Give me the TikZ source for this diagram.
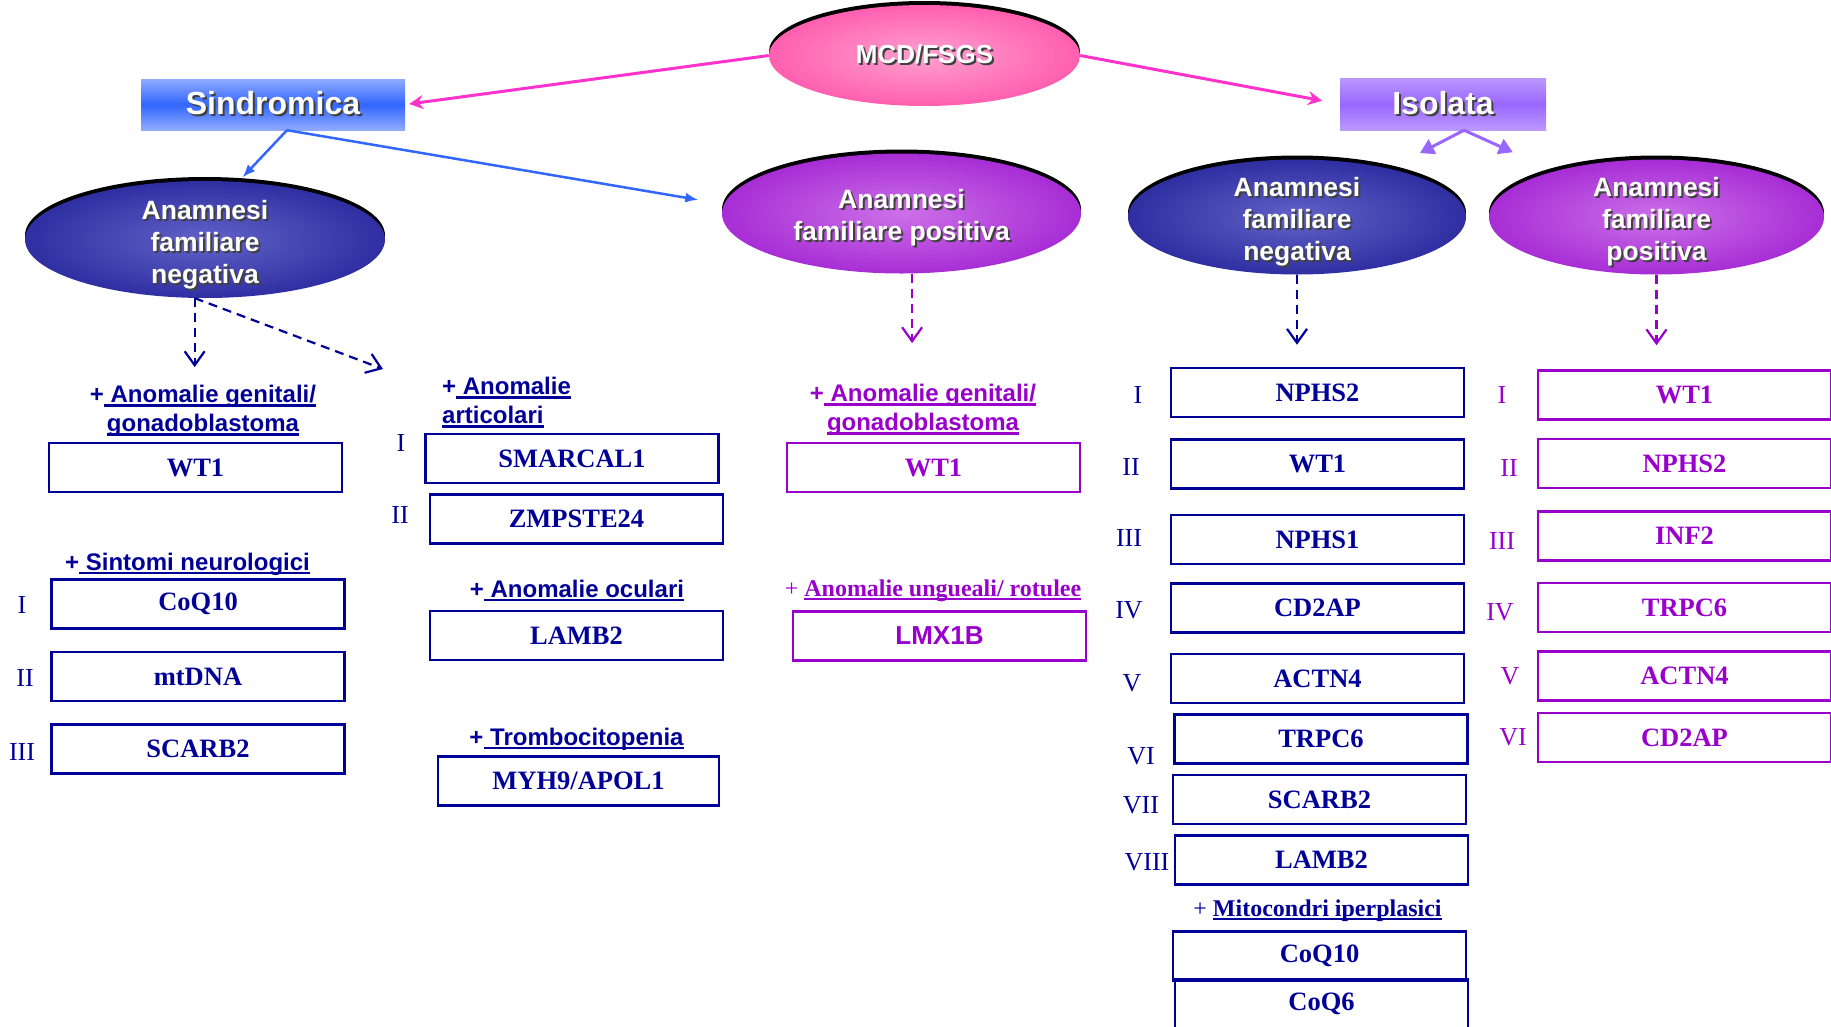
\documentclass[tikz,border=0pt]{standalone}
\usepackage{fontspec}
\setmainfont{Liberation Serif}
\setsansfont{Liberation Sans}
\usepackage{xcolor}
\usepackage{tikz}
\usetikzlibrary{shapes,arrows.meta,positioning,calc}

\definecolor{geneblue}{HTML}{000099}
\definecolor{genepurple}{HTML}{9900CC}
\definecolor{mcdin}{HTML}{FFA0D0}
\definecolor{mcdout}{HTML}{FF3399}
\definecolor{bluein}{HTML}{6262C8}
\definecolor{blueout}{HTML}{0C0C88}
\definecolor{purpin}{HTML}{CC70E8}
\definecolor{purpout}{HTML}{8E00C8}
\definecolor{sindlt}{HTML}{8FAAFF}
\definecolor{sinddk}{HTML}{3366FF}
\definecolor{isollt}{HTML}{BB99FF}
\definecolor{isoldk}{HTML}{9966FF}
\definecolor{pinkline}{HTML}{FF33CC}
\definecolor{blueline}{HTML}{3366FF}
\definecolor{lilacline}{HTML}{9966FF}

\pgfdeclareradialshading{mcdglow}{\pgfpoint{0bp}{0bp}}{color(0bp)=(mcdin); color(42bp)=(mcdout); color(50bp)=(mcdout)}
\pgfdeclareradialshading{blueglow}{\pgfpoint{0bp}{0bp}}{color(0bp)=(bluein); color(42bp)=(blueout); color(50bp)=(blueout)}
\pgfdeclareradialshading{purpglow}{\pgfpoint{0bp}{0bp}}{color(0bp)=(purpin); color(42bp)=(purpout); color(50bp)=(purpout)}

\newcommand\shd[1]{\leavevmode\rlap{\kern2pt\raisebox{-2pt}{\color{black!75}#1}}#1}
\newcommand\undl[1]{\leavevmode\sbox0{#1}\rlap{\rule[-4pt]{\wd0}{2.5pt}}\usebox0}
\newcommand\lowtop[1]{\rule{0pt}{#1}}

\begin{document}
\begin{tikzpicture}[
    x=1pt, y=-1pt,
    node distance=20pt,
    genebox/.style={draw, line width=2.5pt, minimum width=293pt, minimum height=49pt, inner sep=0pt, font=\fontsize{26.5}{30}\selectfont\bfseries},
    bluebox/.style={genebox, draw=geneblue, text=geneblue},
    purpbox/.style={genebox, draw=genepurple, text=genepurple},
    numlbl/.style={inner sep=0pt, font=\fontsize{26}{30}\selectfont},
    sanslbl/.style={inner sep=0pt, align=center, font=\sffamily\bfseries\fontsize{24}{29}\selectfont},
    seriflbl/.style={inner sep=0pt, font=\fontsize{24}{28}\selectfont},
    topbox/.style={inner sep=0pt, text=white, font=\sffamily\bfseries\fontsize{32}{36}\selectfont},
    ell/.style={ellipse, inner xsep=0pt, inner ysep=-12pt, shade, text=white, align=center,
        font=\sffamily\bfseries\fontsize{26.5}{32}\selectfont,
        preaction={fill=black, transform canvas={yshift=4pt}}},
    pinkarrow/.style={-{Stealth[length=14pt,width=14pt]}, line width=3pt, pinkline},
    bluearrow/.style={-{Latex[length=13pt,width=10pt]}, line width=2.5pt, blueline},
    lilacarrow/.style={-{Triangle[length=14pt,width=16pt]}, line width=3pt, lilacline},
    bluedash/.style={-{Straight Barb[length=14pt,width=20pt]}, line width=2.2pt, dash pattern=on 9pt off 6pt, geneblue},
    purpdash/.style={-{Straight Barb[length=14pt,width=20pt]}, line width=2.2pt, dash pattern=on 9pt off 6pt, genepurple}
]
    \useasboundingbox (0,0) rectangle (1831,1026);
    \clip (0,0) rectangle (1831,1026);

    \node[ell, shading=mcdglow, inner ysep=0pt, minimum width=311pt, minimum height=101pt, font=\sffamily\bfseries\fontsize{26}{30}\selectfont] (mcd) at (924.5,55.5) {\shd{MCD/FSGS}};
    \node[topbox, minimum width=264pt, minimum height=51pt, top color=sindlt, bottom color=sindlt, middle color=sinddk] (sind) at (273,104.5) {\shd{Sindromica}};
    \node[topbox, minimum width=206pt, minimum height=52pt, top color=isollt, bottom color=isollt, middle color=isoldk] (isol) at (1443,104) {\shd{Isolata}};

    \node[ell, shading=blueglow, minimum width=360pt, minimum height=117pt] (negL) at (205,239.5) {\lowtop{31pt}\shd{Anamnesi}\\\shd{familiare}\\\shd{negativa}};
    \node[ell, shading=purpglow, minimum width=359pt, minimum height=120pt] (posM) at (901.5,213.5) {\lowtop{29pt}\shd{Anamnesi}\\\shd{familiare positiva}};
    \node[ell, shading=blueglow, minimum width=338pt, minimum height=115pt] (negR) at (1297,217) {\lowtop{31pt}\shd{Anamnesi}\\\shd{familiare}\\\shd{negativa}};
    \node[ell, shading=purpglow, minimum width=335pt, minimum height=115pt] (posR) at (1656.5,217) {\lowtop{31pt}\shd{Anamnesi}\\\shd{familiare}\\\shd{positiva}};

    \draw[pinkarrow, shorten >=4pt] (mcd.west) -- (sind.east);
    \draw[pinkarrow, shorten >=18pt] (mcd.east) -- (isol.west);

    \coordinate (sfork) at ($(sind.south)+(14,0)$);
    \draw[bluearrow, shorten >=6pt] (sfork) -- (negL.60);
    \draw[bluearrow, shorten >=26pt] (sfork) -- (posM.177);

    \coordinate (ifork) at ($(isol.south)+(21,0)$);
    \draw[lilacarrow, shorten >=34pt] (ifork) -- (negR);
    \draw[lilacarrow, shorten >=46pt] (ifork) -- (posR);

    % sindromica, negativa
    \node[bluebox] (sw1) at (195.5,467.5) {WT1};
    \node[sanslbl, text=geneblue, anchor=south] (labA) at (203,437) {+\undl{\ Anomalie genitali/}\\\undl{gonadoblastoma}};
    \node[sanslbl, text=geneblue, anchor=base] (labS) at (187.5,570) {+\undl{\ Sintomi neurologici}};
    \node[bluebox] (sc1) at (198,604) {CoQ10};
    \node[bluebox, below=21pt of sc1] (sc2) {mtDNA};
    \node[bluebox, below=21pt of sc2] (sc3) {SCARB2};
    \node[numlbl, text=geneblue] (ln1) at (22,605) {I};
    \node[numlbl, text=geneblue] (ln2) at (25,678) {II};
    \node[numlbl, text=geneblue] (ln3) at (22,752) {III};

    \node[sanslbl, text=geneblue, align=left, anchor=south west] (labB) at (442,428) {+\undl{\ Anomalie}\\\undl{articolari}};
    \node[bluebox] (sa1) at (572,458.5) {SMARCAL1};
    \node[bluebox, below=9pt of sa1, xshift=4.5pt] (sa2) {ZMPSTE24};
    \node[numlbl, text=geneblue] (an1) at (401,443) {I};
    \node[numlbl, text=geneblue] (an2) at (400,515) {II};
    \node[sanslbl, text=geneblue, anchor=base] (labO) at (577,597) {+\undl{\ Anomalie oculari}};
    \node[bluebox, below=65pt of sa2] (so1) {LAMB2};
    \node[sanslbl, text=geneblue, anchor=base] (labT) at (576.5,745) {+\undl{\ Trombocitopenia}};
    \node[bluebox, below=94pt of so1, minimum width=281pt, xshift=2pt] (st1) {MYH9/APOL1};

    \coordinate (artTip) at (383,369);
    \draw[bluedash, shorten >=18pt] (negL.260) -- (negL.260 |- labA.north);
    \draw[bluedash] (negL.260) -- (artTip);

    % sindromica, positiva
    \node[sanslbl, text=genepurple, anchor=south] (labM) at (923,436) {+\undl{\ Anomalie genitali/}\\\undl{gonadoblastoma}};
    \node[purpbox] (mw1) at (933.5,467.5) {WT1};
    \node[seriflbl, text=genepurple, anchor=base] (labU) at (933,596) {+ \textbf{\undl{Anomalie ungueali/ rotulee}}};
    \node[purpbox, below=117pt of mw1, xshift=6pt, font=\sffamily\bfseries\fontsize{26}{30}\selectfont] (ml1) {LMX1B};
    \draw[purpdash, shorten >=41pt] (posM.280) -- (posM.280 |- labM.north);

    % isolata, negativa
    \node[bluebox] (n1) at (1317.5,392.5) {NPHS2};
    \node[bluebox, below=20pt of n1] (n2) {WT1};
    \node[bluebox, below=24pt of n2] (n3) {NPHS1};
    \node[bluebox, below=17pt of n3] (n4) {CD2AP};
    \node[bluebox, below=19pt of n4] (n5) {ACTN4};
    \node[bluebox, below=9pt of n5, xshift=3.5pt] (n6) {TRPC6};
    \node[bluebox, below=9pt of n6, xshift=-1.5pt] (n7) {SCARB2};
    \node[bluebox, below=9pt of n7, xshift=2pt] (n8) {LAMB2};
    \node[seriflbl, text=geneblue, anchor=base] (labC) at (1317.5,916) {+ \textbf{\undl{Mitocondri iperplasici}}};
    \node[bluebox] (n9) at (1319.5,956) {CoQ10};
    \node[bluebox, below=-4pt of n9, xshift=2pt] (n10) {CoQ6};
    \node[numlbl, text=geneblue] (nn1) at (1138,395) {I};
    \node[numlbl, text=geneblue] (nn2) at (1131,467) {II};
    \node[numlbl, text=geneblue] (nn3) at (1129,538) {III};
    \node[numlbl, text=geneblue] (nn4) at (1129,610) {IV};
    \node[numlbl, text=geneblue] (nn5) at (1132,683) {V};
    \node[numlbl, text=geneblue] (nn6) at (1141,756) {VI};
    \node[numlbl, text=geneblue] (nn7) at (1141,805) {VII};
    \node[numlbl, text=geneblue] (nn8) at (1147,862) {VIII};
    \draw[bluedash, shorten >=22pt] (negR.south) -- (negR.south |- n1.north);

    % isolata, positiva
    \node[purpbox] (p1) at (1684.5,395) {WT1};
    \node[purpbox, below=17pt of p1] (p2) {NPHS2};
    \node[purpbox, below=21pt of p2] (p3) {INF2};
    \node[purpbox, below=20pt of p3] (p4) {TRPC6};
    \node[purpbox, below=17pt of p4] (p5) {ACTN4};
    \node[purpbox, below=10pt of p5] (p6) {CD2AP};
    \node[numlbl, text=genepurple] (pn1) at (1502,395) {I};
    \node[numlbl, text=genepurple] (pn2) at (1509,468) {II};
    \node[numlbl, text=genepurple] (pn3) at (1502,541) {III};
    \node[numlbl, text=genepurple] (pn4) at (1500,612) {IV};
    \node[numlbl, text=genepurple] (pn5) at (1510,676) {V};
    \node[numlbl, text=genepurple] (pn6) at (1513,737) {VI};
    \draw[purpdash, shorten >=24pt] (posR.south) -- (posR.south |- p1.north);
\end{tikzpicture}
\end{document}
